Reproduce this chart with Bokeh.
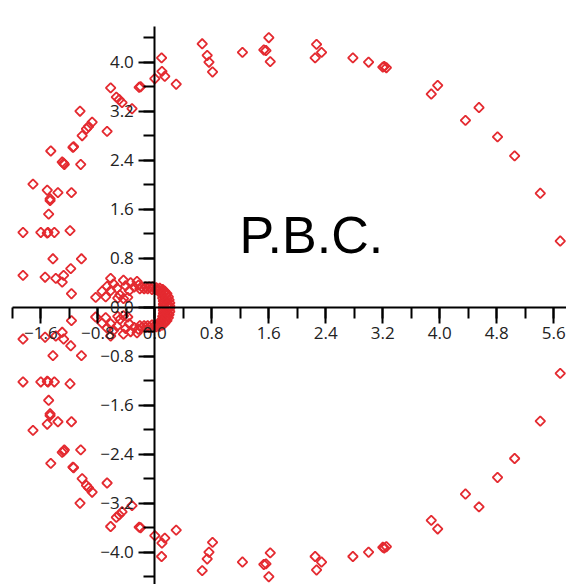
from bokeh.plotting import figure
from bokeh.models import (Range1d, LinearAxis, SingleIntervalTicker,
                          CustomJSTickFormatter, Label, ColumnDataSource)
from bokeh.embed import file_html
from bokeh.resources import INLINE

# eigenvalue spectrum (real part, imaginary part), upper half-plane
re_upper = [5.69, 5.41, 5.05, 4.81, 4.55, 4.36, 3.97, 3.88, 3.25, 3.22, 3.20, 3.00,
            2.78, 2.34, 2.27, 2.25, 1.62, 1.60, 1.56, 1.53, 1.23, 0.81, 0.76, 0.735,
            0.665, 0.30, 0.14, 0.10, 0.095, 0.00, -0.22, -0.20, -0.62, -0.54, -0.50,
            -0.46, -0.32, -1.05, -0.88, -0.93, -0.96, -1.02, -0.67, -1.15, -1.14,
            -1.46, -1.30, -1.28, -1.27, -1.04, -1.71, -1.51, -1.36, -1.17, -1.47,
            -1.47, -1.49, -1.85, -1.60, -1.51, -1.50, -1.41, -1.19, -1.43, -1.03,
            -1.85, -1.54, -1.39, -1.28, -1.30, -1.18, -1.17,
            -0.83, -0.74, -0.67, -0.62, -0.69, -0.62, -0.58, -0.53, -0.49, -0.44,
            -0.41, -0.34, -0.36, -0.29, -0.25, -0.23, -0.52, -0.44, -0.38,
            -0.18, -0.13, -0.08, -0.03, 0.02, 0.07, 0.11, 0.14, 0.17, 0.19, 0.20,
            0.21, 0.21,
            -0.04, 0.01, 0.05, 0.08, 0.10, 0.11, 0.12, 0.12, 0.12,
            -0.21, -0.15, -0.10, 0.04, 0.09, 0.13, 0.15, 0.16, 0.17, 0.17]
im_upper = [1.08, 1.86, 2.47, 2.78, 3.26, 3.05, 3.62, 3.48, 3.91, 3.93, 3.92, 4.00,
            4.07, 4.16, 4.29, 4.07, 4.01, 4.40, 4.19, 4.20, 4.16, 3.84, 4.00, 4.11,
            4.30, 3.64, 3.77, 3.85, 4.07, 3.73, 3.59, 3.60, 3.58, 3.43, 3.39,
            3.34, 3.24, 3.20, 3.02, 2.95, 2.91, 2.80, 2.87, 2.61, 2.62,
            2.55, 2.37, 2.35, 2.33, 2.33, 2.01, 1.91, 1.87, 1.87, 1.77,
            1.74, 1.52, 1.22, 1.22, 1.21, 1.22, 1.22, 1.25, 0.79, 0.79,
            0.52, 0.49, 0.47, 0.52, 0.41, 0.63, 0.22,
            0.16, 0.26, 0.34, 0.47, 0.17, 0.27, 0.38, 0.31, 0.20, 0.44,
            0.35, 0.40, 0.27, 0.33, 0.42, 0.36, 0.15, 0.14, 0.16,
            0.33, 0.33, 0.33, 0.33, 0.32, 0.31, 0.29, 0.26, 0.22, 0.17, 0.12,
            0.07, 0.02,
            0.29, 0.29, 0.27, 0.24, 0.20, 0.15, 0.10, 0.05, 0.01,
            0.30, 0.30, 0.30, 0.29, 0.27, 0.24, 0.20, 0.15, 0.10, 0.04]

# lower half-plane (complex conjugates, as read)
re_lower = [5.69, 5.41, 5.05, 4.81, 4.55, 4.36, 3.97, 3.88, 3.25, 3.22, 3.20, 3.00,
            2.78, 2.34, 2.27, 2.25, 1.62, 1.60, 1.56, 1.53, 1.23, 0.81, 0.76, 0.735,
            0.665, 0.30, 0.14, 0.10, 0.095, 0.00, -0.22, -0.20, -0.62, -0.54, -0.50,
            -0.46, -0.32, -1.05, -0.88, -0.93, -0.96, -1.02, -0.67, -1.15, -1.14,
            -1.46, -1.30, -1.28, -1.27, -1.04, -1.71, -1.51, -1.36, -1.17, -1.47,
            -1.47, -1.49, -1.85, -1.60, -1.51, -1.50, -1.41, -1.19, -1.43, -1.03,
            -1.85, -1.54, -1.39, -1.28, -1.30, -1.18, -1.17,
            -0.83, -0.74, -0.67, -0.62, -0.69, -0.62, -0.58, -0.53, -0.49, -0.44,
            -0.41, -0.34, -0.36, -0.29, -0.25, -0.23, -0.52, -0.44, -0.38,
            -0.18, -0.13, -0.08, -0.03, 0.02, 0.07, 0.11, 0.14, 0.17, 0.19, 0.20,
            0.21, 0.21,
            -0.04, 0.01, 0.05, 0.08, 0.10, 0.11, 0.12, 0.12, 0.12,
            -0.21, -0.15, -0.10, 0.04, 0.09, 0.13, 0.15, 0.16, 0.17, 0.17]
im_lower = [-1.08, -1.86, -2.47, -2.78, -3.26, -3.05, -3.62, -3.48, -3.91, -3.93, -3.92, -4.00,
            -4.07, -4.16, -4.29, -4.07, -4.01, -4.40, -4.19, -4.20, -4.16, -3.84, -4.00, -4.11,
            -4.30, -3.64, -3.77, -3.85, -4.07, -3.73, -3.59, -3.60, -3.58, -3.43, -3.39,
            -3.34, -3.24, -3.20, -3.02, -2.95, -2.91, -2.80, -2.87, -2.61, -2.62,
            -2.55, -2.37, -2.35, -2.33, -2.33, -2.01, -1.91, -1.87, -1.87, -1.77,
            -1.74, -1.52, -1.22, -1.22, -1.21, -1.22, -1.22, -1.25, -0.79, -0.79,
            -0.52, -0.49, -0.47, -0.52, -0.41, -0.63, -0.22,
            -0.16, -0.26, -0.34, -0.47, -0.17, -0.27, -0.38, -0.31, -0.20, -0.44,
            -0.35, -0.40, -0.27, -0.33, -0.42, -0.36, -0.15, -0.14, -0.16,
            -0.33, -0.33, -0.33, -0.33, -0.32, -0.31, -0.29, -0.26, -0.22, -0.17, -0.12,
            -0.07, -0.02,
            -0.29, -0.29, -0.27, -0.24, -0.20, -0.15, -0.10, -0.05, -0.01,
            -0.30, -0.30, -0.30, -0.29, -0.27, -0.24, -0.20, -0.15, -0.10, -0.04]

title_text = "P.B.C."
tick_interval = 0.8

FONT = "Open Sans"
RED = "#e42a30"

p = figure(width=566, height=584, output_backend="svg", toolbar_location=None,
           x_range=Range1d(-2.166, 5.778), y_range=Range1d(-4.527, 5.007),
           x_axis_location=None, y_axis_location=None, min_border=0,
           outline_line_color=None, background_fill_color="white")
p.grid.visible = False

fmt_code = """
if (Math.abs(tick) < 1e-9) { return "0.0"; }
return tick.toFixed(1).replace("-", "\\u2212");
"""

def make_axis(bounds, standoff):
    ax = LinearAxis(ticker=SingleIntervalTicker(interval=tick_interval, num_minor_ticks=2),
                    formatter=CustomJSTickFormatter(code=fmt_code),
                    fixed_location=0, bounds=bounds)
    ax.axis_line_color = "black"
    ax.axis_line_width = 2
    ax.major_tick_line_color = "black"
    ax.major_tick_line_width = 2
    ax.minor_tick_line_color = "black"
    ax.minor_tick_line_width = 2
    ax.major_tick_in = 0
    ax.major_tick_out = 16
    ax.minor_tick_in = 0
    ax.minor_tick_out = 11
    ax.major_label_text_font = FONT
    ax.major_label_text_font_size = "17px"
    ax.major_label_text_color = "#222222"
    ax.major_label_standoff = standoff
    return ax

p.add_layout(make_axis((-2.0, 5.8), 4), "below")
p.add_layout(make_axis((-4.6, 4.58), 5), "left")

src_u = ColumnDataSource(dict(x=re_upper, y=im_upper))
src_l = ColumnDataSource(dict(x=re_lower, y=im_lower))
for src in (src_u, src_l):
    p.scatter("x", "y", source=src, marker="square", size=6.8, angle=0.785398,
              fill_color=None, line_color=RED, line_width=1.8)

p.add_layout(Label(x=1.19, y=1.18, text=title_text, text_font="Liberation Sans",
                   text_font_size="52px", text_color="black",
                   text_baseline="alphabetic"))

open("out.html", "w").write(file_html(p, INLINE))
